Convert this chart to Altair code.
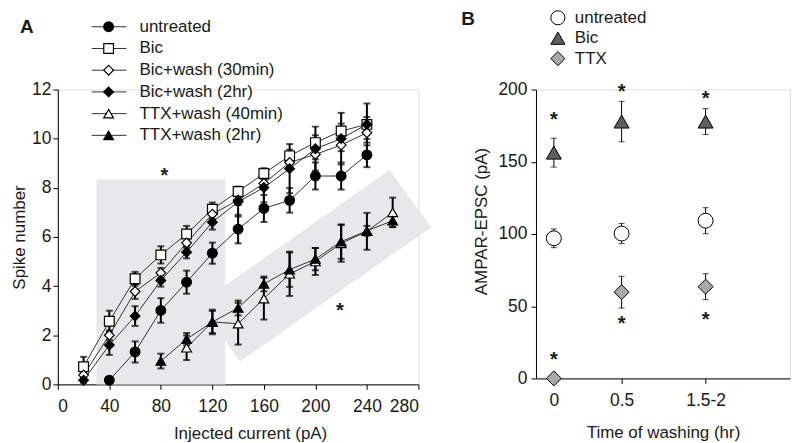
import altair as alt
import pandas as pd

FONT = "Liberation Sans"
GRAY = "#e8e8ea"

# ---------------- Panel A data ----------------
series_names = ["untreated", "Bic", "Bic+wash (30min)", "Bic+wash (2hr)",
                "TTX+wash (40min)", "TTX+wash (2hr)"]
series_shapes = ["circle", "square", "diamond", "diamond", "triangle-up", "triangle-up"]
series_fills = ["black", "white", "white", "black", "white", "black"]
series_sizes = [95, 95, 105, 75, 105, 85]

untreated_x = [40, 60, 80, 100, 120, 140, 160, 180, 200, 220, 240]
untreated_y = [0.17, 1.32, 3.01, 4.16, 5.34, 6.32, 7.16, 7.49, 8.48, 8.48, 9.34]
untreated_e = [0.1, 0.43, 0.5, 0.47, 0.43, 0.58, 0.55, 0.5, 0.55, 0.55, 0.5]

bic_x = [20, 40, 60, 80, 100, 120, 140, 160, 180, 200, 220, 240]
bic_y = [0.72, 2.57, 4.3, 5.27, 6.12, 7.13, 7.85, 8.58, 9.3, 9.84, 10.31, 10.58]
bic_e = [0.4, 0.43, 0.28, 0.35, 0.33, 0.27, 0.2, 0.22, 0.25, 0.3, 0.3, 0.3]

bic30_x = [20, 40, 60, 80, 100, 120, 140, 160, 180, 200, 220, 240]
bic30_y = [0.38, 2.0, 3.78, 4.54, 5.76, 6.93, 7.5, 8.18, 9.03, 9.36, 9.74, 10.24]
bic30_e = [0.15, 0.2, 0.3, 0.2, 0.2, 0.2, 0.2, 0.2, 0.2, 0.2, 0.25, 0.25]

bic2h_x = [20, 40, 60, 80, 100, 120, 140, 160, 180, 200, 220, 240]
bic2h_y = [0.17, 1.6, 2.78, 4.23, 5.38, 6.6, 7.43, 8.01, 8.78, 9.59, 10.0, 10.58]
bic2h_e = [0.1, 0.4, 0.4, 0.25, 0.25, 0.3, 0.6, 0.6, 1.0, 0.9, 1.05, 0.85]

ttx40_x = [100, 120, 140, 160, 180, 200, 220, 240, 260]
ttx40_y = [1.49, 2.54, 2.47, 3.49, 4.5, 5.0, 5.74, 6.23, 7.0]
ttx40_e = [0.5, 0.5, 0.85, 0.85, 0.9, 0.55, 0.75, 0.75, 0.6]

ttx2h_x = [80, 100, 120, 140, 160, 180, 200, 220, 240, 260]
ttx2h_y = [0.95, 1.84, 2.54, 3.11, 4.09, 4.67, 5.1, 5.81, 6.25, 6.66]
ttx2h_e = [0.3, 0.25, 0.45, 0.3, 0.3, 0.7, 0.45, 0.7, 0.2, 0.25]

# shaded regions (data coordinates)
rect_x = [30]
rect_x2 = [130]
rect_y = [0]
rect_y2 = [8.35]
band_x = [109.8, 141.5, 257.5, 290.0]
band_top = [3.28, 4.45, 8.72, 6.40]
band_bot = [3.28, 0.93, 5.20, 6.40]

astA_x = [82.8, 219]
astA_y = [8.67, 3.2]

x_ticks_A = [0, 40, 80, 120, 160, 200, 240, 280]
y_ticks_A = [0, 2, 4, 6, 8, 10, 12]

# ---------------- Panel B data ----------------
groups_B = ["untreated", "Bic", "TTX"]
shapes_B = ["circle", "triangle-up", "diamond"]
fills_B = ["white", "#5f5f5f", "#a9a9a9"]
time_pos = [0, 0.5, 1.12]
time_labels = ["0", "0.5", "1.5-2"]
untreated_B = [97, 100.3, 109.2]
untreated_B_e = [6.5, 7, 9]
bic_B = [156.3, 177.8, 177.8]
bic_B_e = [10, 14, 9]
ttx_B = [0, 59.7, 63.5]
ttx_B_e = [0, 11, 9]
astB_x = [0, 0.5, 1.12, 0, 0.5, 1.12]
astB_y = [182.5, 201.4, 196.7, 16, 40.8, 43.9]
y_ticks_B = [0, 50, 100, 150, 200]

# ---------------- build tables ----------------
rows = []
for name, xs, ys, es in [
    (series_names[0], untreated_x, untreated_y, untreated_e),
    (series_names[1], bic_x, bic_y, bic_e),
    (series_names[2], bic30_x, bic30_y, bic30_e),
    (series_names[3], bic2h_x, bic2h_y, bic2h_e),
    (series_names[4], ttx40_x, ttx40_y, ttx40_e),
    (series_names[5], ttx2h_x, ttx2h_y, ttx2h_e),
]:
    for x, y, e in zip(xs, ys, es):
        rows.append({"series": name, "current": x, "spikes": y,
                     "lo": y - e, "hi": y + e})
dfA = pd.DataFrame(rows)

rect_df = pd.DataFrame({"x": rect_x, "x2": rect_x2, "y": rect_y, "y2": rect_y2})
band_df = pd.DataFrame({"x": band_x, "top": band_top, "bot": band_bot})
astA_df = pd.DataFrame({"x": astA_x, "y": astA_y, "t": ["*"] * len(astA_x)})
legA_df = pd.DataFrame({"series": series_names, "row": list(range(len(series_names)))})

rowsB = []
for g, ys, es in [(groups_B[0], untreated_B, untreated_B_e),
                  (groups_B[1], bic_B, bic_B_e),
                  (groups_B[2], ttx_B, ttx_B_e)]:
    for t, y, e in zip(time_pos, ys, es):
        rowsB.append({"group": g, "t": t, "amp": y, "lo": y - e, "hi": y + e, "e": e})
dfB = pd.DataFrame(rowsB)
astB_df = pd.DataFrame({"x": astB_x, "y": astB_y, "t": ["*"] * len(astB_x)})
legB_df = pd.DataFrame({"group": groups_B, "row": list(range(len(groups_B)))})

label_expr = " : ".join(
    [f"datum.value == {v} ? '{l}'" for v, l in zip(time_pos[:-1], time_labels[:-1])]
    + [f"'{time_labels[-1]}'"])

# ---------------- Panel A ----------------
WA, HA = 362, 296
xA = alt.Scale(domain=[0, 280], nice=False)
yA = alt.Scale(domain=[0, 12], nice=False)
shapeA = alt.Scale(domain=series_names, range=series_shapes)
fillA = alt.Scale(domain=series_names, range=series_fills)
sizeA = alt.Scale(domain=series_names, range=series_sizes)

axis_common = dict(domainColor="black", tickColor="black", tickSize=5, grid=False,
                   labelFont=FONT, titleFont=FONT, labelFontSize=17.5, titleFontSize=17,
                   labelColor="#1a1a1a", titleColor="#1a1a1a", titleFontWeight="normal")

baseA = alt.Chart(dfA)

rectA = alt.Chart(rect_df).mark_rect(color=GRAY).encode(
    x=alt.X("x:Q", scale=xA,
            axis=alt.Axis(values=x_ticks_A, title="Injected current (pA)",
                          labelPadding=8, titlePadding=11, titleX=193, **axis_common)),
    x2="x2:Q",
    y=alt.Y("y:Q", scale=yA,
            axis=alt.Axis(values=y_ticks_A, title="Spike number",
                          labelPadding=2, titlePadding=3, **axis_common)),
    y2="y2:Q",
)
bandA = alt.Chart(band_df).mark_area(color=GRAY).encode(
    x=alt.X("x:Q", scale=xA), y=alt.Y("top:Q", scale=yA), y2="bot:Q")
astA = alt.Chart(astA_df).mark_text(fontSize=20, fontWeight="bold", font=FONT, dy=5,
                                    color="#1a1a1a").encode(
    x=alt.X("x:Q", scale=xA), y=alt.Y("y:Q", scale=yA), text="t:N")
linesA = baseA.mark_line(color="#333333", strokeWidth=1).encode(
    x=alt.X("current:Q", scale=xA), y=alt.Y("spikes:Q", scale=yA), detail="series:N")
errA = baseA.mark_rule(color="black", strokeWidth=2).encode(
    x=alt.X("current:Q", scale=xA), y=alt.Y("lo:Q", scale=yA), y2="hi:Q")
capLoA = baseA.mark_tick(orient="horizontal", size=7, thickness=2, color="black").encode(
    x=alt.X("current:Q", scale=xA), y=alt.Y("lo:Q", scale=yA))
capHiA = baseA.mark_tick(orient="horizontal", size=7, thickness=2, color="black").encode(
    x=alt.X("current:Q", scale=xA), y=alt.Y("hi:Q", scale=yA))
ptsA = baseA.mark_point(stroke="black", strokeWidth=1.2, opacity=1, fillOpacity=1).encode(
    x=alt.X("current:Q", scale=xA), y=alt.Y("spikes:Q", scale=yA),
    shape=alt.Shape("series:N", scale=shapeA, legend=None),
    fill=alt.Fill("series:N", scale=fillA, legend=None),
    size=alt.Size("series:N", scale=sizeA, legend=None),
)
mainA = alt.layer(rectA, bandA, astA, linesA, errA, capLoA, capHiA, ptsA)

legY_A = alt.Y("row:Q", scale=alt.Scale(domain=[0, 5], range=[-63, 46]), axis=None)
legA = alt.Chart(legA_df)
legRuleA = legA.mark_rule(color="#333333", strokeWidth=1).encode(
    x=alt.value(34), x2=alt.value(69), y=legY_A)
legPtsA = legA.mark_point(stroke="black", strokeWidth=1.2, opacity=1, fillOpacity=1).encode(
    x=alt.value(51), y=legY_A,
    shape=alt.Shape("series:N", scale=shapeA, legend=None),
    fill=alt.Fill("series:N", scale=fillA, legend=None),
    size=alt.Size("series:N", scale=sizeA, legend=None),
)
legTxtA = legA.mark_text(align="left", baseline="middle", fontSize=17, font=FONT,
                         color="#1a1a1a").encode(x=alt.value(82), y=legY_A, text="series:N")
labelA = alt.Chart(pd.DataFrame({"t": ["A"]})).mark_text(
    align="left", baseline="middle", fontSize=19, fontWeight="bold", font=FONT,
    color="#1a1a1a").encode(x=alt.value(-38), y=alt.value(-63), text="t:N")
legendA = alt.layer(legRuleA, legPtsA, legTxtA, labelA)

panelA = alt.layer(mainA, legendA).resolve_scale(y="independent").properties(
    width=WA, height=HA)

# ---------------- Panel B ----------------
WB, HB = 255, 290
xB = alt.Scale(domain=[-0.132, -0.132 + WB / 136.0], nice=False)
yB = alt.Scale(domain=[0, 200], nice=False)
shapeB = alt.Scale(domain=groups_B, range=shapes_B)
fillB = alt.Scale(domain=groups_B, range=fills_B)

baseB = alt.Chart(dfB)
errB = baseB.transform_filter("datum.e > 0").mark_rule(color="black", strokeWidth=1).encode(
    x=alt.X("t:Q", scale=xB,
            axis=alt.Axis(values=time_pos, title="Time of washing (hr)",
                          labelExpr=label_expr,
                          labelPadding=8, titlePadding=16, **axis_common)),
    y=alt.Y("lo:Q", scale=yB,
            axis=alt.Axis(values=y_ticks_B, title="AMPAR-EPSC (pA)", titleY=132,
                          labelPadding=4, titlePadding=7, **axis_common)),
    y2="hi:Q",
)
capLoB = baseB.transform_filter("datum.e > 0").mark_tick(
    orient="horizontal", size=6, thickness=1, color="black").encode(
    x=alt.X("t:Q", scale=xB), y=alt.Y("lo:Q", scale=yB))
capHiB = baseB.transform_filter("datum.e > 0").mark_tick(
    orient="horizontal", size=6, thickness=1, color="black").encode(
    x=alt.X("t:Q", scale=xB), y=alt.Y("hi:Q", scale=yB))
ptsB = baseB.mark_point(stroke="black", strokeWidth=1, size=225, opacity=1, fillOpacity=1).encode(
    x=alt.X("t:Q", scale=xB), y=alt.Y("amp:Q", scale=yB),
    shape=alt.Shape("group:N", scale=shapeB, legend=None),
    fill=alt.Fill("group:N", scale=fillB, legend=None),
)
astB = alt.Chart(astB_df).mark_text(fontSize=20, fontWeight="bold", font=FONT, dy=5,
                                    color="#1a1a1a").encode(
    x=alt.X("x:Q", scale=xB), y=alt.Y("y:Q", scale=yB), text="t:N")
mainB = alt.layer(errB, capLoB, capHiB, ptsB, astB)

legY_B = alt.Y("row:Q", scale=alt.Scale(domain=[0, 2], range=[-72, -31]), axis=None)
legB = alt.Chart(legB_df)
legPtsB = legB.mark_point(stroke="black", strokeWidth=1, size=200, opacity=1, fillOpacity=1).encode(
    x=alt.value(22), y=legY_B,
    shape=alt.Shape("group:N", scale=shapeB, legend=None),
    fill=alt.Fill("group:N", scale=fillB, legend=None),
)
legTxtB = legB.mark_text(align="left", baseline="middle", fontSize=17, font=FONT,
                         color="#1a1a1a").encode(x=alt.value(39), y=legY_B, text="group:N")
labelB = alt.Chart(pd.DataFrame({"t": ["B"]})).mark_text(
    align="left", baseline="middle", fontSize=19, fontWeight="bold", font=FONT,
    color="#1a1a1a").encode(x=alt.value(-75), y=alt.value(-71), text="t:N")
legendB = alt.layer(legPtsB, legTxtB, labelB)

panelB = alt.layer(mainB, legendB).resolve_scale(y="independent").properties(
    width=WB, height=HB)

chart = alt.hconcat(panelA, panelB, spacing=28).resolve_scale(
    shape="independent", fill="independent", size="independent"
).properties(
    padding={"left": 2, "top": -1, "right": 0, "bottom": 0}
).configure_view(stroke=None).configure(background="white")

chart.save("out.html", embed_options={"renderer": "svg", "actions": False})
